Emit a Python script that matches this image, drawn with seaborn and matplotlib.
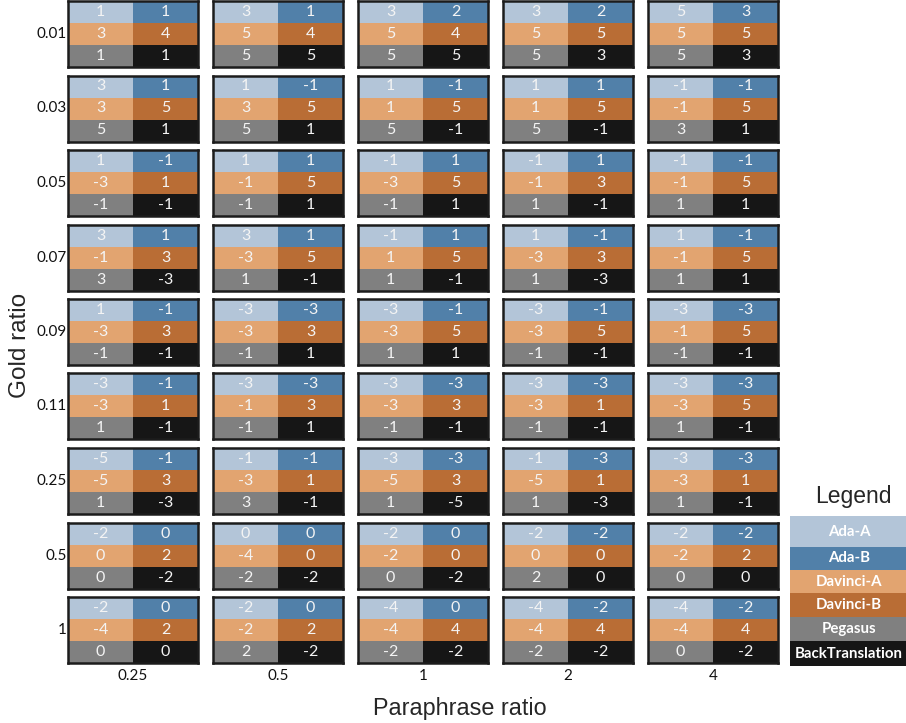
import numpy as np
import matplotlib
matplotlib.use("Agg")
import matplotlib.pyplot as plt
import seaborn as sns
from matplotlib.colors import ListedColormap

sns.set_theme(style="white")
plt.rcParams['font.family'] = ['Lato', 'DejaVu Sans']

gold_ratios = ["0.01", "0.03", "0.05", "0.07", "0.09", "0.11", "0.25", "0.5", "1"]
para_ratios = ["0.25", "0.5", "1", "2", "4"]
models = ["Ada-A", "Ada-B", "Davinci-A", "Davinci-B", "Pegasus", "BackTranslation"]
colors = ["#b3c5d8", "#5180a9", "#e2a470", "#b96d35", "#808080", "#161616"]

# rows = gold ratio, columns = paraphrase ratio
ada_a = [[1, 3, 3, 3, 5],
         [3, 1, 1, 1, -1],
         [1, 1, -1, -1, -1],
         [3, 3, -1, 1, 1],
         [1, -3, -3, -3, -3],
         [-3, -3, -3, -3, -3],
         [-5, -1, -3, -1, -3],
         [-2, 0, -2, -2, -2],
         [-2, -2, -4, -4, -4]]
ada_b = [[1, 1, 2, 2, 3],
         [1, -1, -1, 1, -1],
         [-1, 1, 1, 1, -1],
         [1, 1, 1, -1, -1],
         [-1, -3, -1, -1, -3],
         [-1, -3, -3, -3, -3],
         [-1, -1, -3, -3, -3],
         [0, 0, 0, -2, -2],
         [0, 0, 0, -2, -2]]
davinci_a = [[3, 5, 5, 5, 5],
             [3, 3, 1, 1, -1],
             [-3, -1, -3, -1, -1],
             [-1, -3, 1, -3, -1],
             [-3, -3, -3, -3, -1],
             [-3, -1, -3, -3, -3],
             [-5, -3, -5, -5, -3],
             [0, -4, -2, 0, -2],
             [-4, -2, -4, -4, -4]]
davinci_b = [[4, 4, 4, 5, 5],
             [5, 5, 5, 5, 5],
             [1, 5, 5, 3, 5],
             [3, 5, 5, 3, 5],
             [3, 3, 5, 5, 5],
             [1, 3, 3, 1, 5],
             [3, 1, 3, 1, 1],
             [2, 0, 0, 0, 2],
             [2, 2, 4, 4, 4]]
pegasus = [[1, 5, 5, 5, 5],
           [5, 5, 5, 5, 3],
           [-1, -1, -1, 1, 1],
           [3, 1, 1, 1, 1],
           [-1, -1, 1, -1, -1],
           [1, -1, -1, -1, 1],
           [1, 3, 1, 1, 1],
           [0, -2, 0, 2, 0],
           [0, 2, -2, -2, 0]]
backtranslation = [[1, 5, 5, 3, 3],
                   [1, 1, -1, -1, 1],
                   [-1, 1, 1, -1, 1],
                   [-3, -1, -1, -3, 1],
                   [-1, 1, 1, -1, -1],
                   [-1, 1, -1, -1, -1],
                   [-3, -1, -5, -3, -1],
                   [-2, -2, -2, 0, 0],
                   [0, -2, -2, -2, -2]]

series = [ada_a, ada_b, davinci_a, davinci_b, pegasus, backtranslation]
cat_idx = np.array([[0, 1], [2, 3], [4, 5]])
cmap = ListedColormap(colors)

W, H = 906, 723
fig = plt.figure(figsize=(W / 100, H / 100), dpi=100)

def fax(x, y, w, h):
    return fig.add_axes([x / W, 1 - (y + h) / H, w / W, h / H])

col_x = [68, 213, 358, 503, 648]
pw, ph = 130, 66
row_y = [1 + 74.5 * i for i in range(9)]

for i, g in enumerate(gold_ratios):
    for j, p in enumerate(para_ratios):
        ax = fax(col_x[j], row_y[i], pw, ph)
        vals = np.array([[series[0][i][j], series[1][i][j]],
                         [series[2][i][j], series[3][i][j]],
                         [series[4][i][j], series[5][i][j]]])
        sns.heatmap(cat_idx, ax=ax, cmap=cmap, vmin=-0.5, vmax=5.5, cbar=False,
                    annot=vals, fmt="d", linewidths=0,
                    annot_kws={"color": "#f4f4f4", "fontsize": 11.5})
        ax.set_xticks([])
        ax.set_yticks([])
        for s in ax.spines.values():
            s.set_visible(True)
            s.set_color("#1c1c1c")
            s.set_linewidth(1.8)
        if j == 0:
            ax.set_yticks([1.5])
            ax.set_yticklabels([g], fontsize=11, rotation=0, color="#111111")
            ax.tick_params(axis="y", length=0, pad=1)
        if i == len(gold_ratios) - 1:
            ax.set_xticks([1])
            ax.set_xticklabels([p], fontsize=11, color="#111111")
            ax.tick_params(axis="x", length=0, pad=4)

fig.text(460 / W, 1 - 708 / H, "Paraphrase ratio", ha="center", va="center",
         fontsize=16.8, family=["Liberation Sans", "DejaVu Sans"])
fig.text(20 / W, 1 - 345 / H, "Gold ratio", ha="center", va="center",
         rotation=90, fontsize=17.5, family=["Liberation Sans", "DejaVu Sans"])
fig.text(853 / W, 1 - 497 / H, "Legend", ha="center", va="center",
         fontsize=16.5, family=["Liberation Sans", "DejaVu Sans"])

# legend block
edges = [516, 547, 570, 593, 617, 641, 666]
lax = fax(790, 516, 130, 150)
lax.set_xlim(0, 130)
lax.set_ylim(150, 0)
for k, m in enumerate(models):
    top = edges[k] - 516
    h = edges[k + 1] - edges[k]
    lax.bar(0, h, bottom=top, width=130, align="edge", color=colors[k], linewidth=0)
    lax.text(59, top + h / 2, m, ha="center", va="center", color="white",
             fontsize=10.8, fontweight="bold")
lax.axis("off")

fig.savefig("out.png", dpi=100)
